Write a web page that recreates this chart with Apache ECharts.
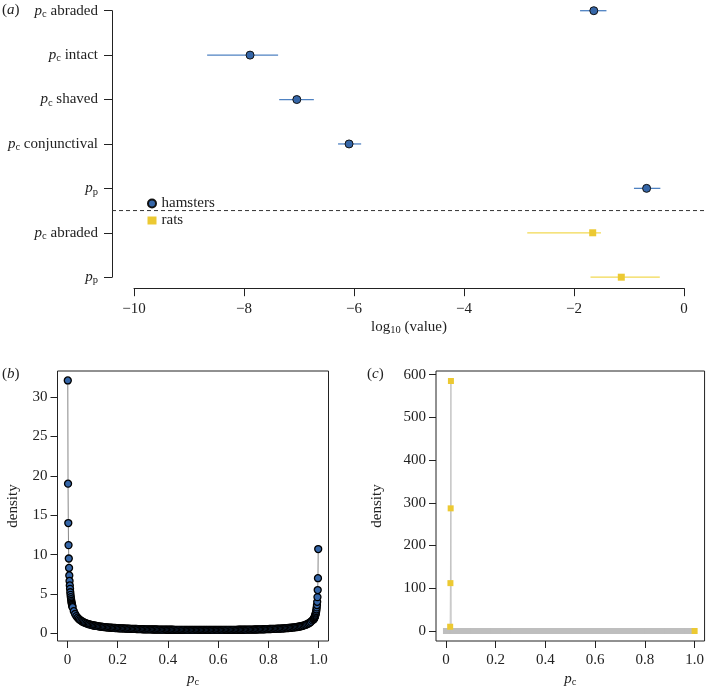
<!DOCTYPE html>
<html>
<head>
<meta charset="utf-8">
<script src="https://cdn.jsdelivr.net/npm/echarts@6/dist/echarts.min.js"></script>
<style>
html, body { margin: 0; padding: 0; background: #fff; }
#main { width: 707px; height: 689px; }
</style>
</head>
<body>
<div id="main"></div>
<script>
// (a) estimates on log10 scale, one row per parameter (top to bottom)
var rowSub = ['c', 'c', 'c', 'c', 'p', 'c', 'p'];
var rowText = ['abraded', 'intact', 'shaved', 'conjunctival', '', 'abraded', ''];

var hamRows = [0, 1, 2, 3, 4];
var hamMid = [-1.64, -7.89, -7.04, -6.09, -0.68];
var hamLo  = [-1.89, -8.67, -7.36, -6.29, -0.91];
var hamHi  = [-1.41, -7.38, -6.73, -5.87, -0.43];

var ratRows = [5, 6];
var ratMid = [-1.66, -1.14];
var ratLo  = [-2.85, -1.70];
var ratHi  = [-1.51, -0.44];

var splitRow = 4.5;   // dashed line between hamsters and rats

// (b) hamsters density of p_c
var pcBLeft = [0.001, 0.002, 0.003, 0.004, 0.005, 0.006, 0.007, 0.008, 0.009, 0.010,
               0.011, 0.012, 0.013, 0.014, 0.015, 0.016, 0.017, 0.018, 0.019, 0.020];
var densBLeft = [32.1, 19.0, 14.0, 11.2, 9.5, 8.3, 7.35, 6.65, 6.08, 5.65,
                 5.22, 4.89, 4.60, 4.35, 4.13, 3.93, 3.76, 3.60, 3.45, 3.32];
var pcBMidStart = 0.025, pcBMidStep = 0.005;
var densBMid = [
  2.81, 2.46, 2.19, 1.99, 1.82, 1.69, 1.58, 1.48, 1.40, 1.33,
  1.26, 1.21, 1.16, 1.11, 1.07, 1.03, 1.00, 0.97, 0.94, 0.91,
  0.88, 0.86, 0.84, 0.82, 0.80, 0.79, 0.77, 0.75, 0.74, 0.73,
  0.71, 0.70, 0.69, 0.68, 0.67, 0.66, 0.65, 0.64, 0.63, 0.63,
  0.62, 0.61, 0.60, 0.60, 0.59, 0.58, 0.57, 0.57, 0.56, 0.56,
  0.55, 0.54, 0.54, 0.53, 0.53, 0.52, 0.52, 0.51, 0.51, 0.51,
  0.50, 0.50, 0.50, 0.49, 0.49, 0.49, 0.49, 0.48, 0.48, 0.48,
  0.47, 0.47, 0.47, 0.47, 0.46, 0.46, 0.46, 0.46, 0.46, 0.46,
  0.45, 0.45, 0.45, 0.45, 0.45, 0.45, 0.45, 0.45, 0.45, 0.45,
  0.44, 0.44, 0.44, 0.44, 0.44, 0.44, 0.44, 0.44, 0.44, 0.44,
  0.43, 0.43, 0.43, 0.43, 0.43, 0.43, 0.43, 0.43, 0.43, 0.43,
  0.43, 0.44, 0.44, 0.44, 0.44, 0.44, 0.44, 0.44, 0.44, 0.44,
  0.44, 0.45, 0.45, 0.45, 0.45, 0.45, 0.45, 0.45, 0.45, 0.45,
  0.45, 0.46, 0.46, 0.46, 0.46, 0.46, 0.46, 0.47, 0.47, 0.47,
  0.48, 0.48, 0.48, 0.48, 0.49, 0.49, 0.49, 0.50, 0.50, 0.51,
  0.51, 0.52, 0.52, 0.53, 0.53, 0.54, 0.55, 0.55, 0.56, 0.57,
  0.57, 0.58, 0.59, 0.60, 0.60, 0.61, 0.62, 0.63, 0.64, 0.66,
  0.67, 0.68, 0.70, 0.71, 0.73, 0.75, 0.77, 0.79, 0.81, 0.84,
  0.87, 0.90, 0.94, 0.99, 1.04, 1.10, 1.17, 1.25, 1.35, 1.47,
  1.64
];
var pcBRight = [0.980, 0.981, 0.982, 0.983, 0.984, 0.985, 0.986, 0.987, 0.988, 0.989,
                0.990, 0.991, 0.992, 0.993, 0.994, 0.995, 0.996, 0.997, 0.998, 0.999];
var densBRight = [1.75, 1.80, 1.86, 1.92, 1.99, 2.07, 2.16, 2.26, 2.37, 2.50,
                  2.65, 2.82, 3.03, 3.29, 3.59, 4.0, 4.6, 5.5, 7.0, 10.7];

// (c) rats density of p_c
var pcC = [0, 0.005, 0.01, 0.016, 0.017, 0.018, 0.019, 0.020, 0.021, 0.025, 0.03,
  0.05, 0.07, 0.09, 0.11, 0.13, 0.15, 0.17, 0.19, 0.21, 0.23, 0.25, 0.27, 0.29, 0.31,
  0.33, 0.35, 0.37, 0.39, 0.41, 0.43, 0.45, 0.47, 0.49, 0.51, 0.53, 0.55, 0.57, 0.59,
  0.61, 0.63, 0.65, 0.67, 0.69, 0.71, 0.73, 0.75, 0.77, 0.79, 0.81, 0.83, 0.85, 0.87,
  0.89, 0.91, 0.93, 0.95, 0.97, 0.98, 1.0];
var densC = [0, 0, 0, 0, 10, 112, 287, 585, 0, 0, 0,
  0, 0, 0, 0, 0, 0, 0, 0, 0, 0, 0, 0, 0, 0,
  0, 0, 0, 0, 0, 0, 0, 0, 0, 0, 0, 0, 0, 0,
  0, 0, 0, 0, 0, 0, 0, 0, 0, 0, 0, 0, 0, 0,
  0, 0, 0, 0, 0, 0, 0];

var xTicksBC = [0, 0.2, 0.4, 0.6, 0.8, 1.0];
var yTicksB = [0, 5, 10, 15, 20, 25, 30];
var yTicksC = [0, 100, 200, 300, 400, 500, 600];

var FONT = 'Liberation Serif';
var FS = 15;
var INK = '#222';
var hamFill = '#3566a8', hamLine = '#4f82c2';
var ratFill = '#ecc932', ratLine = '#f2d952';

// build point lists
var pointsB = [];
pcBLeft.forEach(function (x, i) { pointsB.push([x, densBLeft[i]]); });
densBMid.forEach(function (y, i) { pointsB.push([+(pcBMidStart + i * pcBMidStep).toFixed(3), y]); });
pcBRight.forEach(function (x, i) { pointsB.push([x, densBRight[i]]); });

var pointsC = pcC.map(function (x, i) { return [x, densC[i]]; });
var bandC = pointsC.filter(function (p) { return p[1] < 1 && p[0] < 0.99; });
var marksC = pointsC.filter(function (p) { return !(p[1] < 1 && p[0] < 0.99); });

var hamBars = hamRows.map(function (r, i) { return [hamLo[i], hamHi[i], r]; });
var ratBars = ratRows.map(function (r, i) { return [ratLo[i], ratHi[i], r]; });
var hamPts = hamRows.map(function (r, i) { return [hamMid[i], r]; });
var ratPts = ratRows.map(function (r, i) { return [ratMid[i], r]; });

function hLine(color, width, dash) {
  return function (params, api) {
    var a = api.coord([api.value(0), api.value(2)]);
    var b = api.coord([api.value(1), api.value(2)]);
    return {
      type: 'line',
      shape: { x1: a[0], y1: a[1], x2: b[0], y2: b[1] },
      style: { stroke: color, lineWidth: width, lineDash: dash || null }
    };
  };
}

var subRich = {
  i: { fontStyle: 'italic', fontFamily: FONT, fontSize: FS, color: INK },
  s: { fontFamily: FONT, fontSize: 10.5, color: INK, padding: [7, 0, 0, 0] },
  t: { fontFamily: FONT, fontSize: FS, color: INK }
};

function numLabel(v) { return v === 0 ? '0' : v.toFixed(1); }

function boxAxisX(gridIndex, nameGap) {
  return {
    type: 'value', gridIndex: gridIndex, min: -0.04, max: 1.04,
    axisLine: { show: false, onZero: false },
    axisTick: { show: true, length: 7, customValues: xTicksBC, lineStyle: { color: INK } },
    axisLabel: { customValues: xTicksBC, formatter: numLabel, margin: 12,
                 fontFamily: FONT, fontSize: FS, color: INK },
    splitLine: { show: false },
    name: '{i|p}{s|c}', nameLocation: 'middle', nameGap: nameGap,
    nameTextStyle: { rich: subRich }
  };
}

var chart = echarts.init(document.getElementById('main'));

var option = {
  animation: false,
  backgroundColor: '#fff',
  textStyle: { fontFamily: FONT },
  graphic: [
    { type: 'text', left: 2, top: 3, style: { text: '({i|a})', rich: subRich, font: FS + 'px "Liberation Serif"', fill: INK } },
    { type: 'text', left: 2, top: 367, style: { text: '({i|b})', rich: subRich, font: FS + 'px "Liberation Serif"', fill: INK } },
    { type: 'text', left: 367, top: 367, style: { text: '({i|c})', rich: subRich, font: FS + 'px "Liberation Serif"', fill: INK } }
  ],
  legend: {
    data: [{ name: 'hamsters', icon: 'circle' }, { name: 'rats', icon: 'rect' }],
    orient: 'vertical', left: 142, top: 191,
    itemWidth: 9, itemHeight: 8, itemGap: 2,
    textStyle: { fontFamily: FONT, fontSize: FS, color: INK }
  },
  grid: [
    { left: 134, top: 10.7, width: 550, height: 266.5 },
    { left: 57.5, top: 371, width: 271, height: 270.5, show: true, borderColor: INK, borderWidth: 1 },
    { left: 436, top: 371, width: 269.5, height: 270, show: true, borderColor: INK, borderWidth: 1 }
  ],
  xAxis: [
    {
      type: 'value', gridIndex: 0, min: -10, max: 0, interval: 2, offset: 11, position: 'bottom',
      axisLine: { show: true, onZero: false, lineStyle: { color: INK } },
      axisTick: { show: true, length: 8, lineStyle: { color: INK } },
      axisLabel: { margin: 13, fontFamily: FONT, fontSize: FS, color: INK,
                   formatter: function (v) { return v < 0 ? '\u2212' + Math.abs(v) : String(v); } },
      splitLine: { show: false },
      name: '{t|log}{s|10}{t| (value)}', nameLocation: 'middle', nameGap: 30,
      nameTextStyle: { rich: subRich }
    },
    boxAxisX(1, 29),
    boxAxisX(2, 29)
  ],
  yAxis: [
    {
      type: 'value', gridIndex: 0, min: 0, max: 6, interval: 1, inverse: true, offset: 22, position: 'left',
      axisLine: { show: true, onZero: false, lineStyle: { color: INK } },
      axisTick: { show: true, length: 8, lineStyle: { color: INK } },
      axisLabel: {
        margin: 14, fontFamily: FONT, fontSize: FS, color: INK,
        formatter: function (v) {
          return '{i|p}{s|' + rowSub[v] + '}' + (rowText[v] ? '{t| ' + rowText[v] + '}' : '');
        },
        rich: subRich
      },
      splitLine: { show: false }
    },
    {
      type: 'value', gridIndex: 1, min: -0.97, max: 33.3,
      axisLine: { show: false, onZero: false },
      axisTick: { show: true, length: 7, customValues: yTicksB, lineStyle: { color: INK } },
      axisLabel: { customValues: yTicksB, margin: 10, fontFamily: FONT, fontSize: FS, color: INK },
      splitLine: { show: false },
      name: 'density', nameLocation: 'middle', nameRotate: 90, nameGap: 37,
      nameTextStyle: { fontFamily: FONT, fontSize: FS, color: INK }
    },
    {
      type: 'value', gridIndex: 2, min: -23.4, max: 608.4,
      axisLine: { show: false, onZero: false },
      axisTick: { show: true, length: 7, customValues: yTicksC, lineStyle: { color: INK } },
      axisLabel: { customValues: yTicksC, margin: 10, fontFamily: FONT, fontSize: FS, color: INK },
      splitLine: { show: false },
      name: 'density', nameLocation: 'middle', nameRotate: 90, nameGap: 51,
      nameTextStyle: { fontFamily: FONT, fontSize: FS, color: INK }
    }
  ],
  series: [
    {
      type: 'custom', name: 'divider', xAxisIndex: 0, yAxisIndex: 0, clip: false, silent: true,
      renderItem: hLine('#333', 1, [4, 3]), data: [[-10.4, 0.42, splitRow]], encode: { x: [0, 1], y: 2 }, z: 1
    },
    {
      type: 'custom', name: 'hamsterBars', xAxisIndex: 0, yAxisIndex: 0,
      renderItem: hLine(hamLine, 1.3), data: hamBars, encode: { x: [0, 1], y: 2 }, z: 2
    },
    {
      type: 'custom', name: 'ratBars', xAxisIndex: 0, yAxisIndex: 0,
      renderItem: hLine(ratLine, 1.3), data: ratBars, encode: { x: [0, 1], y: 2 }, z: 2
    },
    {
      type: 'scatter', name: 'hamsters', xAxisIndex: 0, yAxisIndex: 0,
      symbol: 'circle', symbolSize: 8, data: hamPts, z: 3,
      itemStyle: { color: hamFill, borderColor: '#111', borderWidth: 1, opacity: 1 }
    },
    {
      type: 'scatter', name: 'rats', xAxisIndex: 0, yAxisIndex: 0,
      symbol: 'rect', symbolSize: 7, data: ratPts, z: 3,
      itemStyle: { color: ratFill, opacity: 1 }
    },
    {
      type: 'line', name: 'bLine', xAxisIndex: 1, yAxisIndex: 1, data: pointsB,
      showSymbol: false, lineStyle: { color: '#888', width: 1 }, z: 2
    },
    {
      type: 'scatter', name: 'bPts', xAxisIndex: 1, yAxisIndex: 1, data: pointsB,
      symbol: 'circle', symbolSize: 7, z: 3,
      itemStyle: { color: hamFill, borderColor: '#000', borderWidth: 1.3, opacity: 1 }
    },
    {
      type: 'line', name: 'cLine', xAxisIndex: 2, yAxisIndex: 2, data: pointsC,
      showSymbol: false, lineStyle: { color: '#c4c4c4', width: 1 }, z: 2
    },
    {
      type: 'scatter', name: 'cBand', xAxisIndex: 2, yAxisIndex: 2, data: bandC,
      symbol: 'rect', symbolSize: 6, z: 3,
      itemStyle: { color: '#bebebe', opacity: 1 }
    },
    {
      type: 'scatter', name: 'cPts', xAxisIndex: 2, yAxisIndex: 2, data: marksC,
      symbol: 'rect', symbolSize: 6, z: 4,
      itemStyle: { color: ratFill, opacity: 1 }
    }
  ]
};

chart.setOption(option);
</script>
</body>
</html>
